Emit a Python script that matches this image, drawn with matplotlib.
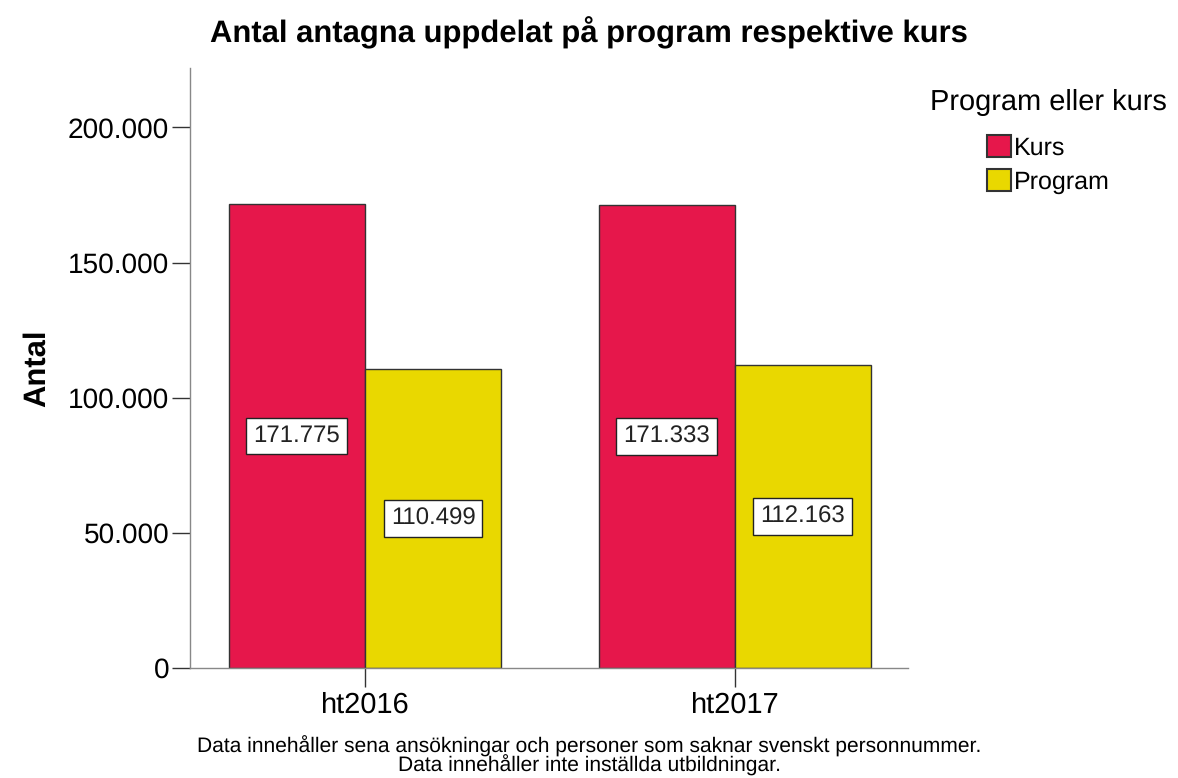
import numpy as np
import matplotlib.pyplot as plt
from matplotlib.patches import Patch

plt.rcParams['font.family'] = ['Liberation Sans', 'DejaVu Sans']
plt.rcParams['text.hinting'] = 'no_hinting'
plt.rcParams['text.hinting_factor'] = 1

# data
years = ['ht2016', 'ht2017']
kurs = [171775, 171333]
program = [110499, 112163]
series_names = ['Kurs', 'Program']
colors = ['#E6174B', '#E9D800']

def fmt(v):
    return '{:,}'.format(v).replace(',', '.')

fig = plt.figure(figsize=(11.78, 7.78), dpi=100)
ax = fig.add_axes([0.1613, 0.1414, 0.6095, 0.7712])

x = np.arange(len(years))
w = 0.368
for i, (vals, c) in enumerate(zip([kurs, program], colors)):
    pos = x - w / 2 + i * w
    ax.bar(pos, vals, width=w, color=c, edgecolor='#333333', linewidth=1)
    for p, v in zip(pos, vals):
        ax.text(p, v / 2, fmt(v), ha='center', va='center', fontsize=17,
                color='#222222',
                bbox=dict(boxstyle='square,pad=0.3', fc='white', ec='#222222', lw=1))

ax.set_xlim(-0.473, 1.468)
ax.set_ylim(0, 222000)
ax.set_xticks(x)
ax.set_xticklabels(years, fontsize=21)
ax.set_yticks([0, 50000, 100000, 150000, 200000])
ax.set_yticklabels([fmt(v) for v in [0, 50000, 100000, 150000, 200000]], fontsize=20)
ax.tick_params(axis='x', length=14, width=1, color='#333333', pad=3)
ax.tick_params(axis='y', length=13, width=1, color='#333333', pad=2)

for s in ['top', 'right']:
    ax.spines[s].set_visible(False)
for s in ['left', 'bottom']:
    ax.spines[s].set_color('#888888')
    ax.spines[s].set_linewidth(1)

ax.set_ylabel('Antal', fontsize=22, fontweight='bold', labelpad=12)

fig.text(0.5, 0.958, 'Antal antagna uppdelat på program respektive kurs',
         ha='center', va='center', fontsize=22.3, fontweight='bold')

handles = [Patch(facecolor=c, edgecolor='#333333', lw=1.5, label=n)
           for c, n in zip(colors, series_names)]
leg = fig.legend(handles=handles, loc='upper center', bbox_to_anchor=(0.89, 0.902),
                 frameon=False, fontsize=18, title='Program eller kurs',
                 title_fontsize=21, handlelength=0.95, handleheight=0.95,
                 handletextpad=0.1, labelspacing=0.38, borderpad=0)
leg._legend_box.sep = 14
leg._legend_box.align = 'center'

fig.text(0.5, 0.028, 'Data innehåller sena ansökningar och personer som saknar svenskt personnummer.\n'
         'Data innehåller inte inställda utbildningar.',
         ha='center', va='center', fontsize=15, linespacing=0.85)

fig.savefig('out.png', dpi=100)
